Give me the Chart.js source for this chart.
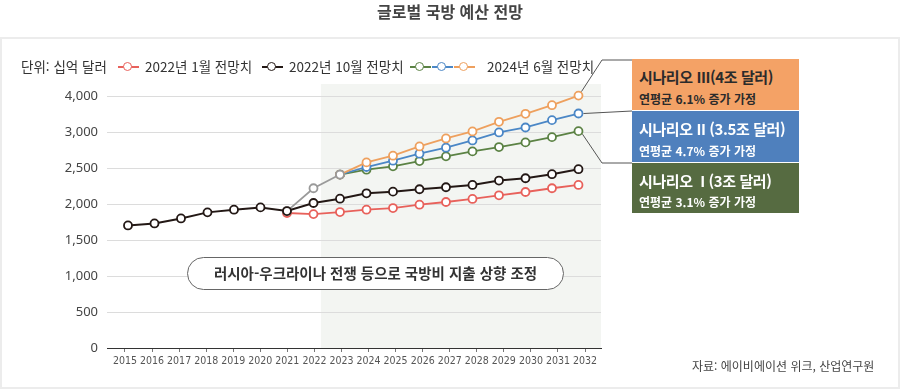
<!DOCTYPE html>
<html lang="ko">
<head>
<meta charset="utf-8">
<script src="https://cdn.jsdelivr.net/npm/chart.js@4"></script>
<style>
  body { margin: 0; background: #fff; font-family: "Noto Sans CJK KR", "Noto Sans", sans-serif; color: #444; }
  #wrap { position: relative; width: 900px; height: 389px; overflow: hidden; }
  #panel { position: absolute; left: 0; top: 37px; width: 900px; height: 352px; box-sizing: border-box; border: 2.5px solid #ececec; }
  #chart { position: absolute; left: 0; top: 0; }
  .txt { position: absolute; white-space: nowrap; line-height: 1; }
  #title { left: 0; width: 900px; top: 3px; text-align: center; font-size: 16px; font-weight: 700; color: #444; }
  .legend { top: 60px; font-size: 13.5px; color: #333; }
  .icon { position: absolute; top: 66px; height: 2px; }
  .dot { position: absolute; top: -4px; width: 7px; height: 7px; border-radius: 50%; background: #fff; border: 1.6px solid; }
  #note { left: 187px; top: 257px; width: 377px; height: 33px; box-sizing: border-box; border: 1px solid #666; border-radius: 17px;
          background: #fff; display: flex; align-items: center; justify-content: center; font-size: 14.5px; font-weight: 700; color: #333; }
  .box { position: absolute; left: 632px; width: 167px; box-sizing: border-box; padding-left: 7px; }
  .box .l1 { position: absolute; left: 7px; font-size: 15px; font-weight: 700; letter-spacing: -0.4px; white-space: nowrap; }
  .box .l2 { position: absolute; left: 7px; font-size: 12px; font-weight: 700; white-space: nowrap; }
  #source { left: 692px; top: 360px; font-size: 12px; color: #444; }
</style>
</head>
<body>
<div id="wrap">
  <div id="panel"></div>
  <canvas id="chart" width="900" height="389"></canvas>
  <div id="title" class="txt">글로벌 국방 예산 전망</div>

  <div class="txt legend" style="left:21px">단위: 십억 달러</div>
  <div class="icon" style="left:118px;width:21px;background:#e8615b"><div class="dot" style="left:5px;border-color:#e8615b"></div></div>
  <div class="txt legend" style="left:145px">2022년 1월 전망치</div>
  <div class="icon" style="left:262px;width:21px;background:#231815"><div class="dot" style="left:5px;border-color:#231815"></div></div>
  <div class="txt legend" style="left:289px">2022년 10월 전망치</div>
  <div class="icon" style="left:410px;width:21px;background:#5b8244"><div class="dot" style="left:5px;border-color:#5b8244"></div></div>
  <div class="icon" style="left:432px;width:21px;background:#4b87c6"><div class="dot" style="left:5px;border-color:#4b87c6"></div></div>
  <div class="icon" style="left:454px;width:21px;background:#eea05e"><div class="dot" style="left:5px;border-color:#eea05e"></div></div>
  <div class="txt legend" style="left:487px">2024년 6월 전망치</div>

  <div id="note" class="txt">러시아-우크라이나 전쟁 등으로 국방비 지출 상향 조정</div>

  <div class="box" style="top:59px;height:51px;background:#f4a266;color:#2b2b2b">
    <div class="l1" style="top:7px">시나리오 III(4조 달러)</div>
    <div class="l2" style="top:31px">연평균 6.1% 증가 가정</div>
  </div>
  <div class="box" style="top:111px;height:51px;background:#4f80bd;color:#fff">
    <div class="l1" style="top:7px">시나리오 II (3.5조 달러)</div>
    <div class="l2" style="top:31px">연평균 4.7% 증가 가정</div>
  </div>
  <div class="box" style="top:163px;height:50px;background:#566b41;color:#fff">
    <div class="l1" style="top:7px">시나리오 &nbsp;I (3조 달러)</div>
    <div class="l2" style="top:30px">연평균 3.1% 증가 가정</div>
  </div>

  <div id="source" class="txt">자료: 에이비에이션 위크, 산업연구원</div>
</div>

<script>
// Chart data (billion USD)
const years = [2015, 2016, 2017, 2018, 2019, 2020, 2021, 2022, 2023, 2024, 2025, 2026, 2027, 2028, 2029, 2030, 2031, 2032];
const forecastOct2022 = [1702, 1730, 1800, 1884, 1921, 1953, 1902, 2014, 2074, 2149, 2172, 2205, 2233, 2265, 2326, 2358, 2414, 2484];
const forecastJan2022 = [null, null, null, null, null, null, 1875, 1860, 1888, 1921, 1944, 1991, 2028, 2070, 2121, 2167, 2219, 2265];
const forecastJun2024 = [null, null, null, null, null, null, 1902, 2219, 2409, null, null, null, null, null, null, null, null, null];
const scenario1 = [null, null, null, null, null, null, null, null, 2409, 2477, 2523, 2597, 2662, 2731, 2791, 2856, 2929, 3012];
const scenario2 = [null, null, null, null, null, null, null, null, 2409, 2514, 2602, 2699, 2782, 2883, 2994, 3063, 3165, 3257];
const scenario3 = [null, null, null, null, null, null, null, null, 2409, 2578, 2671, 2800, 2911, 3008, 3142, 3253, 3373, 3506];

// y axis: the original labels the top gridline "4,000"
const yTickValues = [0, 500, 1000, 1500, 2000, 2500, 3000, 3500];
const yTickLabels = ["0", "500", "1,000", "1,500", "2,000", "2,500", "3,000", "4,000"];

const shadeFrom = 2022.28;

function toPoints(values) {
  return years
    .map((x, i) => ({ x: x, y: values[i] }))
    .filter((p) => p.y !== null);
}

function lineSet(label, values, color, order, width) {
  return {
    label: label,
    data: toPoints(values),
    borderColor: color,
    borderWidth: width || 1.8,
    pointRadius: 4,
    pointBorderWidth: 1.8,
    pointBackgroundColor: "#fff",
    pointBorderColor: color,
    tension: 0,
    order: order,
  };
}

// background shading for forecast period
const shadePlugin = {
  id: "shade",
  beforeDraw(chart) {
    const { ctx, chartArea } = chart;
    const x0 = chart.scales.x.getPixelForValue(shadeFrom);
    ctx.save();
    ctx.fillStyle = "#f3f5f2";
    ctx.fillRect(x0, chartArea.top, chartArea.right - x0, chartArea.bottom - chartArea.top);
    ctx.restore();
  },
};

// leader lines to scenario boxes
const connectorPlugin = {
  id: "connectors",
  afterDraw(chart) {
    const ctx = chart.ctx;
    const last = (i) => {
      const pts = chart.getDatasetMeta(i).data;
      return pts[pts.length - 1];
    };
    const o = last(5), b = last(4), g = last(3);
    ctx.save();
    ctx.strokeStyle = "#555";
    ctx.lineWidth = 1;
    ctx.beginPath();
    ctx.moveTo(o.x + 3, o.y - 4);
    ctx.lineTo(602, 60);
    ctx.lineTo(632, 60);
    ctx.moveTo(b.x + 5, b.y);
    ctx.lineTo(632, 111);
    ctx.moveTo(g.x + 4, g.y + 3);
    ctx.lineTo(602, 163);
    ctx.lineTo(632, 163);
    ctx.stroke();
    ctx.restore();
  },
};

const chartCtx = document.getElementById("chart");
const chart = new Chart(chartCtx, {
  type: "line",
  data: {
    datasets: [
      lineSet("2022년 10월 전망치", forecastOct2022, "#231815", 0, 2),
      lineSet("2024년 6월 전망치", forecastJun2024, "#9a9a9a", 1),
      lineSet("2022년 1월 전망치", forecastJan2022, "#e8615b", 2),
      lineSet("시나리오 I", scenario1, "#5b8244", 5),
      lineSet("시나리오 II", scenario2, "#4b87c6", 4),
      lineSet("시나리오 III", scenario3, "#eea05e", 3),
    ],
  },
  options: {
    responsive: false,
    animation: false,
    devicePixelRatio: 1,
    layout: { padding: { left: 0, right: 299, top: 84, bottom: 0 } },
    plugins: { legend: { display: false }, tooltip: { enabled: false } },
    scales: {
      x: {
        type: "linear",
        display: false,
        min: 2014.208,
        max: 2032.85,
      },
      xLabel: {
        type: "linear",
        position: "bottom",
        min: 2014.335,
        max: 2032.59,
        afterBuildTicks: (scale) => {
          scale.ticks = years.map((y) => ({ value: y }));
        },
        afterFit: (scale) => {
          scale.height = 41;
        },
        grid: { drawOnChartArea: false, drawTicks: true, tickLength: 4, color: "#777" },
        border: { display: true, color: "#333", width: 1 },
        ticks: {
          padding: 3,
          maxRotation: 0,
          autoSkip: false,
          color: "#555",
          font: { family: "'DejaVu Sans Condensed', 'Liberation Sans Narrow', sans-serif", size: 10.5 },
          callback: (value) => String(value),
        },
      },
      y: {
        min: 0,
        max: 3667,
        afterBuildTicks: (scale) => {
          scale.ticks = yTickValues.map((v) => ({ value: v }));
        },
        afterFit: (scale) => {
          scale.width = 107;
        },
        border: { display: false },
        grid: {
          drawTicks: false,
          color: (c) => (c.tick && c.tick.value === 0 ? "rgba(0,0,0,0)" : "#dcdcdc"),
        },
        ticks: {
          padding: 9,
          color: "#444",
          font: { family: "'Noto Sans', sans-serif", size: 13 },
          callback: (value, index) => yTickLabels[index],
        },
      },
    },
  },
  plugins: [shadePlugin, connectorPlugin],
});
</script>
</body>
</html>
